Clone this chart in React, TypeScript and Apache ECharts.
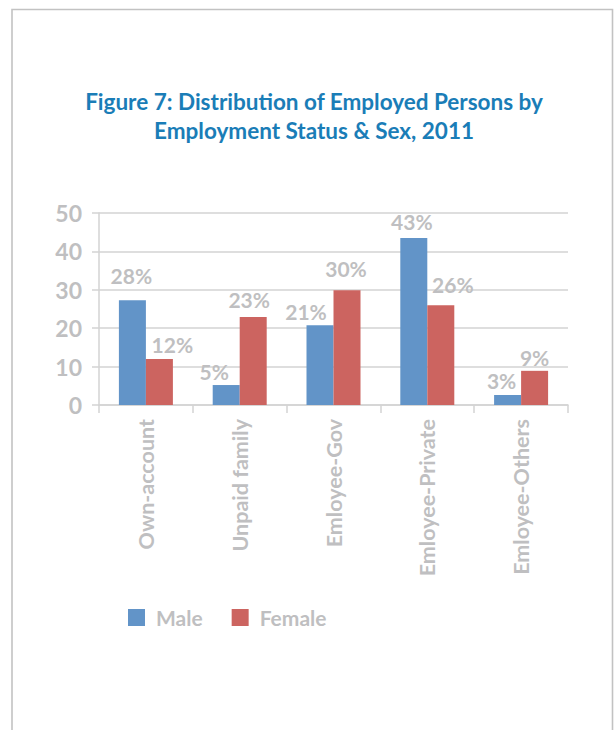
import React, { useEffect, useRef } from "react";
import * as echarts from "echarts";

const categories = ["Own-account", "Unpaid family", "Emloyee-Gov", "Emloyee-Private", "Emloyee-Others"];
const maleValues = [27.3, 5.2, 20.8, 43.5, 2.6];
const femaleValues = [12.0, 22.9, 29.9, 26.0, 8.9];
const maleLabels = ["28%", "5%", "21%", "43%", "3%"];
const femaleLabels = ["12%", "23%", "30%", "26%", "9%"];
const seriesNames = ["Male", "Female"];
const titleText = "Figure 7: Distribution of Employed Persons by\nEmployment Status & Sex, 2011";

const FONT = "Lato";
const GRAY = "#bfbfc1";
const LINE = "#d3d3d3";

// label placement tweaks (dx, distance) per bar
const maleLabelPos = [[-1, 14], [-12, 3], [-14, 3], [-2, 6], [-6, 4]];
const femaleLabelPos = [[13, 4], [-4, 7], [-1, 11], [12, 10], [0, 3]];

export default function App() {
  const ref = useRef<HTMLDivElement>(null);
  useEffect(() => {
    if (!ref.current) return;
    const chart = echarts.init(ref.current, null, { renderer: "svg" });
    const labelStyle = {
      show: true,
      position: "top",
      fontFamily: FONT,
      fontWeight: "bold",
      fontSize: 21,
      color: GRAY,
    };
    const mk = (vals: number[], labels: string[], pos: number[][]) =>
      vals.map((v, i) => ({
        value: v,
        label: { ...labelStyle, formatter: labels[i], offset: [pos[i][0], 0], distance: pos[i][1] },
      }));
    chart.setOption({
      animation: false,
      backgroundColor: "#ffffff",
      title: {
        text: titleText,
        left: 309,
        top: 82,
        textAlign: "center",
        textStyle: {
          fontFamily: FONT,
          fontWeight: "bold",
          fontSize: 22.5,
          lineHeight: 29,
          color: "#1a7db7",
        },
      },
      graphic: [
        {
          type: "rect",
          shape: { x: 12, y: 9.5, width: 600.5, height: 800 },
          style: { fill: "none", stroke: "#c2c2c2", lineWidth: 1.6 },
          silent: true,
        },
      ],
      legend: {
        left: 128,
        top: 607,
        padding: 0,
        itemWidth: 17,
        itemHeight: 17,
        itemGap: 29,
        icon: "rect",
        data: seriesNames,
        textStyle: {
          fontFamily: FONT,
          fontWeight: "bold",
          fontSize: 21,
          color: GRAY,
          padding: [0, 0, 0, 6],
        },
      },
      grid: { left: 99, right: 48, top: 213, bottom: 325, containLabel: false },
      xAxis: {
        type: "category",
        data: categories,
        axisLine: { show: true, lineStyle: { color: LINE, width: 1.5 } },
        axisTick: { show: true, length: 8, lineStyle: { color: LINE, width: 1.5 } },
        axisLabel: {
          rotate: 90,
          margin: 14,
          fontFamily: FONT,
          fontWeight: "bold",
          fontSize: 21.5,
          color: GRAY,
          interval: 0,
        },
      },
      yAxis: {
        type: "value",
        min: 0,
        max: 50,
        interval: 10,
        axisLine: { show: true, lineStyle: { color: LINE, width: 1.5 } },
        axisTick: { show: true, length: 7, lineStyle: { color: LINE, width: 1.5 } },
        splitLine: { show: true, lineStyle: { color: LINE, width: 1.5 } },
        axisLabel: {
          margin: 17,
          fontFamily: FONT,
          fontWeight: "bold",
          fontSize: 23,
          color: GRAY,
        },
      },
      series: [
        {
          name: seriesNames[0],
          type: "bar",
          barWidth: 27,
          barGap: "0%",
          itemStyle: { color: "#6294c8" },
          data: mk(maleValues, maleLabels, maleLabelPos),
        },
        {
          name: seriesNames[1],
          type: "bar",
          barWidth: 27,
          barGap: "0%",
          itemStyle: { color: "#cc6460" },
          data: mk(femaleValues, femaleLabels, femaleLabelPos),
        },
      ],
    });
    return () => chart.dispose();
  }, []);
  return (
    <div
      ref={ref}
      style={{ position: "fixed", left: 0, top: 0, width: 616, height: 730 }}
    />
  );
}
